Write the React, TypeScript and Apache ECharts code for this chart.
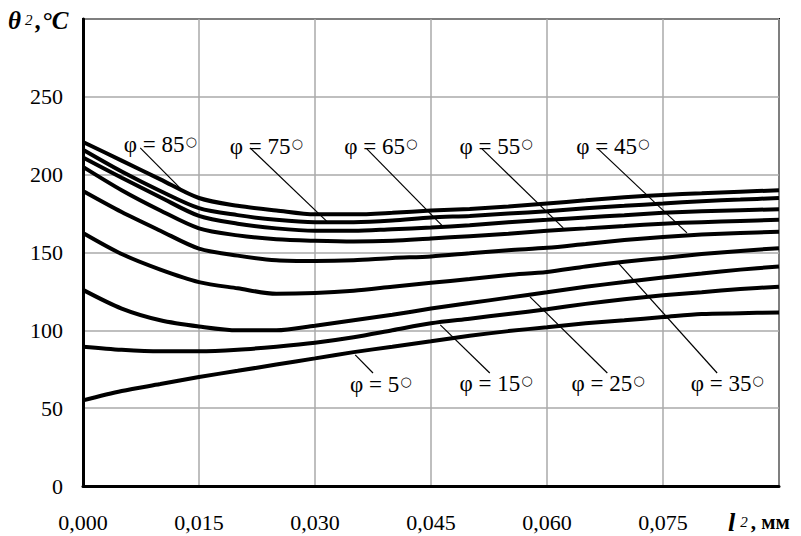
import React, { useEffect, useRef } from "react";
import * as echarts from "echarts";

// x values, l2 (mm)
const lValues = [0, 0.005, 0.01, 0.015, 0.02, 0.025, 0.03, 0.035, 0.04, 0.045, 0.05, 0.055, 0.06, 0.065, 0.07, 0.075, 0.08, 0.085, 0.09];

// theta2 (°C) for each phi
const phi5 = [55, 61, 65.5, 70, 74, 78, 82, 86, 89.5, 93, 96.5, 99.5, 102, 104.5, 106.5, 108.5, 110.5, 111, 111.5];
const phi15 = [89.5, 87.5, 86.5, 86.5, 87.5, 89.5, 92, 95.5, 100, 104.5, 107.5, 110.5, 113.5, 117, 120, 122.5, 124.5, 126.5, 128];
const phi25 = [126, 114, 106.5, 102.5, 100, 100, 103, 106.5, 110, 114, 117.5, 121, 124.5, 128, 131, 134, 136.5, 139, 141];
const phi35 = [162.5, 149, 139, 131, 127, 123.5, 124, 125.5, 128, 130.5, 133, 135.5, 137.5, 141, 144, 146.5, 149, 151, 152.8];
const phi45 = [189.5, 176, 164, 152.5, 148, 145, 144.5, 145, 146.5, 147.5, 149.5, 151.5, 153, 155.5, 158, 160, 161.5, 162.5, 163.4];
const phi55 = [205, 190, 177, 165.5, 161, 158.5, 157.5, 157, 157.5, 159, 160.5, 162, 164, 165.5, 167, 168.5, 169.5, 170.3, 171];
const phi65 = [211, 198, 185.5, 173.5, 168.5, 165.5, 164, 164, 165, 166, 167.5, 169.5, 171, 172.5, 174, 175.5, 176.5, 177.2, 177.8];
const phi75 = [216, 202, 189.5, 178.5, 174, 171, 169.5, 169.5, 170.5, 172.5, 173.5, 175, 176.5, 178.5, 180, 181.5, 183, 184, 185];
const phi85 = [221, 209, 197, 185, 180, 177, 174.5, 174.5, 175.5, 177, 178, 179.5, 181.5, 183.5, 185.5, 187, 188, 189, 190];

const curves = [phi5, phi15, phi25, phi35, phi45, phi55, phi65, phi75, phi85];
const phiValues = [5, 15, 25, 35, 45, 55, 65, 75, 85];

// annotation anchors in data units: label centre, leader start, leader end
const labelAt: number[][] = [
  [0.0385, 66.2], [0.0534, 66.8], [0.0679, 66.8], [0.0833, 66.8],
  [0.0685, 219.2], [0.0534, 219.2], [0.0385, 219.2], [0.0237, 219.2], [0.0100, 220.4],
];
const leaderFrom: number[][] = [
  [0.0375, 72.6], [0.0526, 72.6], [0.0678, 72.6], [0.0820, 72.6],
  [0.0666, 216.6], [0.0516, 216.6], [0.0367, 216.6], [0.0216, 217.2], [0.0074, 217.2],
];
const leaderTo: number[][] = [
  [0.0352, 84.2], [0.0462, 103.5], [0.0578, 121.5], [0.0692, 143.3],
  [0.0781, 162.6], [0.0621, 165.8], [0.0466, 166.5], [0.0316, 169.7], [0.0133, 187.7],
];

const FONT = "'Times New Roman', 'Liberation Serif', 'DejaVu Serif', serif";

export default function App() {
  const ref = useRef<HTMLDivElement>(null);
  useEffect(() => {
    if (!ref.current) return;
    const chart = echarts.init(ref.current, undefined, { renderer: "svg" });
    chart.setOption({
      animation: false,
      backgroundColor: "#ffffff",
      textStyle: { fontFamily: FONT },
      grid: { left: 83, top: 19, right: 22, bottom: 50, show: true, borderColor: "#000", borderWidth: 2, backgroundColor: "transparent" },
      xAxis: {
        type: "value",
        min: 0,
        max: 0.09,
        interval: 0.015,
        axisLine: { show: true, onZero: false, lineStyle: { color: "#000", width: 3 } },
        axisTick: { show: false },
        splitLine: { show: true, lineStyle: { color: "#aaaaaa", width: 1.5 } },
        axisLabel: {
          margin: 25,
          fontFamily: FONT,
          fontSize: 22,
          color: "#000",
          formatter: (v: number) => (v > 0.085 ? "" : v.toFixed(3).replace(".", ",")),
        },
      },
      yAxis: {
        type: "value",
        min: 0,
        max: 300,
        interval: 50,
        axisLine: { show: true, onZero: false, lineStyle: { color: "#000", width: 3 } },
        axisTick: { show: false },
        splitLine: { show: true, lineStyle: { color: "#aaaaaa", width: 1.5 } },
        axisLabel: {
          margin: 20,
          fontFamily: FONT,
          fontSize: 22,
          color: "#000",
          formatter: (v: number) => (v >= 300 ? "" : String(v)),
        },
      },
      series: curves.map((c, i) => ({
        type: "line",
        name: "φ = " + phiValues[i],
        data: c.map((y, j) => [lValues[j], y]),
        showSymbol: false,
        smooth: 0.3,
        lineStyle: { color: "#000", width: 4 },
        z: 3,
      })),
    });

    const px = (p: number[]) => chart.convertToPixel({ gridIndex: 0 }, p) as number[];
    const graphic: any[] = [];
    phiValues.forEach((phi, i) => {
      const a = px(leaderFrom[i]);
      const b = px(leaderTo[i]);
      graphic.push({
        type: "line",
        shape: { x1: a[0], y1: a[1], x2: b[0], y2: b[1] },
        style: { stroke: "#000", lineWidth: 1.2 },
        z: 10,
      });
      const c = px(labelAt[i]);
      graphic.push({
        type: "text",
        x: c[0],
        y: c[1],
        style: {
          text: `{t|φ = ${phi}}{d|○}`,
          align: "center",
          verticalAlign: "middle",
          rich: {
            t: { fontFamily: FONT, fontSize: 23, fill: "#000", lineHeight: 26, verticalAlign: "bottom" },
            d: { fontFamily: "DejaVu Sans", fontSize: 13, fill: "#000", lineHeight: 26, verticalAlign: "bottom", padding: [0, 0, 8, 1] },
          },
        },
        z: 11,
      });
    });
    graphic.push({
      type: "text",
      x: 8,
      y: 20,
      style: {
        text: "{a|θ}{s|2}{a|,°C}",
        verticalAlign: "middle",
        rich: {
          a: { fontFamily: FONT, fontSize: 25, fontWeight: "bold", fontStyle: "italic", fill: "#000" },
          s: { fontFamily: FONT, fontSize: 15, fontStyle: "italic", fill: "#000", padding: [0, 3, 0, 4] },
        },
      },
      z: 12,
    });
    graphic.push({
      type: "text",
      x: 728,
      y: 522,
      style: {
        text: "{a|l}{s|2}{b|, мм}",
        verticalAlign: "middle",
        rich: {
          a: { fontFamily: FONT, fontSize: 26, fontWeight: "bold", fontStyle: "italic", fill: "#000" },
          s: { fontFamily: FONT, fontSize: 15, fontStyle: "italic", fill: "#000", padding: [0, 3, 0, 5] },
          b: { fontFamily: FONT, fontSize: 21, fontWeight: "bold", fill: "#000" },
        },
      },
      z: 12,
    });
    chart.setOption({ graphic });

    return () => chart.dispose();
  }, []);
  return <div ref={ref} style={{ width: 801, height: 536, position: "absolute", left: 0, top: 0 }} />;
}
